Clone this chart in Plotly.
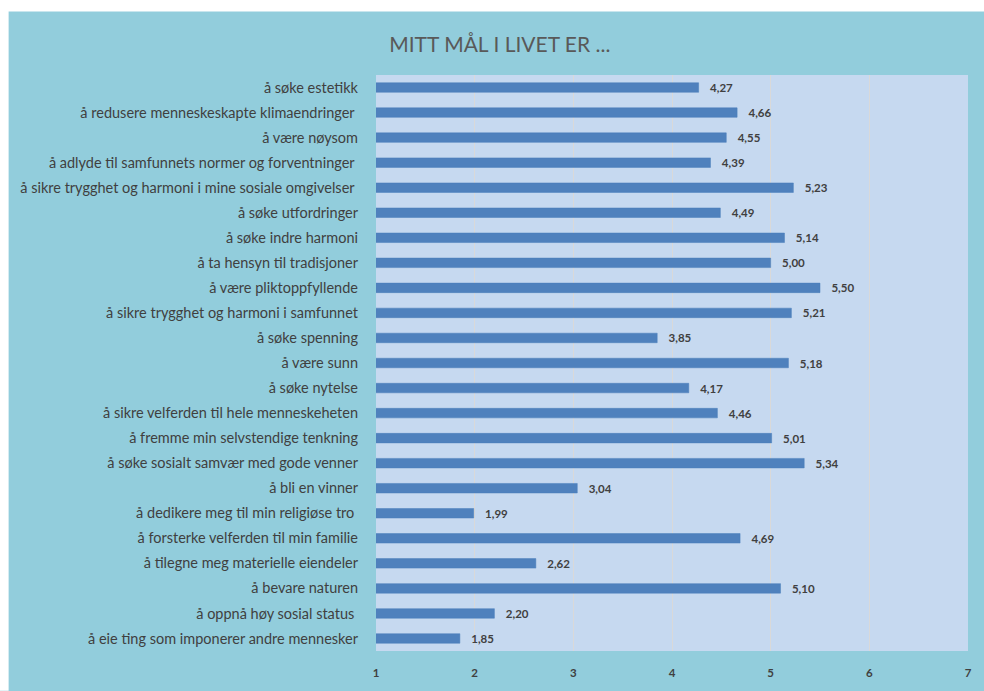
import plotly.graph_objects as go

categories = [
    "å søke estetikk",
    "å redusere menneskeskapte klimaendringer ",
    "å være nøysom",
    "å adlyde til samfunnets normer og forventninger ",
    "å sikre trygghet og harmoni i mine sosiale omgivelser ",
    "å søke utfordringer",
    "å søke indre harmoni",
    "å ta hensyn til tradisjoner",
    "å være pliktoppfyllende",
    "å sikre trygghet og harmoni i samfunnet",
    "å søke spenning",
    "å være sunn",
    "å søke nytelse",
    "å sikre velferden til hele menneskeheten",
    "å fremme min selvstendige tenkning",
    "å søke sosialt samvær med gode venner",
    "å bli en vinner",
    "å dedikere meg til min religiøse tro ",
    "å forsterke velferden til min familie",
    "å tilegne meg materielle eiendeler",
    "å bevare naturen",
    "å oppnå høy sosial status ",
    "å eie ting som imponerer andre mennesker",
]
values = [4.27, 4.66, 4.55, 4.39, 5.23, 4.49, 5.14, 5.00, 5.50, 5.21, 3.85, 5.18,
          4.17, 4.46, 5.01, 5.34, 3.04, 1.99, 4.69, 2.62, 5.10, 2.20, 1.85]
title_text = "MITT MÅL I LIVET ER ..."
x_ticks = [1, 2, 3, 4, 5, 6, 7]

FONT = "Lato"
TXT = "#404040"

fig = go.Figure(go.Bar(
    y=categories, x=values, orientation="h",
    marker=dict(color="#4F81BD", line=dict(color="#4A7EBB", width=0.5)),
    width=0.38,
    text=values, texttemplate="   %{x:.2f}", textposition="outside",
    constraintext="none",
    textfont=dict(family=FONT, size=11.5, color=TXT, weight="bold"),
    cliponaxis=False,
))

W, H = 984, 691
L, R, T, B = 376, 15, 75, 35
pw, ph = W - L - R, H - T - B

def px_x(p):
    return (p - L) / pw

def px_y(p):
    return (H - B - p) / ph

fig.update_layout(
    width=W, height=H,
    margin=dict(l=L, r=R, t=T, b=B, pad=0),
    paper_bgcolor="#92CDDC",
    plot_bgcolor="#C6D9F0",
    separators=", ",
    showlegend=False,
    title=dict(text=title_text, x=px_x(500), xanchor="center", xref="paper",
               y=1 - 45 / H, yanchor="middle",
               font=dict(family=FONT, size=21, color="#595959")),
    font=dict(family=FONT, color=TXT),
    shapes=[
        dict(type="rect", xref="paper", yref="paper", layer="below",
             x0=px_x(-5), x1=px_x(W + 5), y0=px_y(11), y1=px_y(-5),
             fillcolor="white", line=dict(width=0)),
        dict(type="rect", xref="paper", yref="paper", layer="below",
             x0=px_x(-5), x1=px_x(8), y0=px_y(H + 5), y1=px_y(-5),
             fillcolor="white", line=dict(width=0)),
    ],
    xaxis=dict(range=[1, 7], tickvals=x_ticks, ticktext=[str(t) for t in x_ticks],
               showgrid=True, gridcolor="#D9D9D9", gridwidth=1,
               zeroline=False, showline=False, ticks="",
               ticklabelstandoff=13,
               tickfont=dict(family=FONT, size=11.5, color=TXT, weight="bold")),
    yaxis=dict(autorange="reversed", showgrid=False, zeroline=False,
               showline=False, ticks="", ticklabelstandoff=17,
               tickfont=dict(family=FONT, size=14.5, color=TXT)),
)

fig.write_html(
    "out.html",
    config={"displayModeBar": False},
    post_script="document.body.style.margin='0';document.body.style.overflow='hidden';",
)
